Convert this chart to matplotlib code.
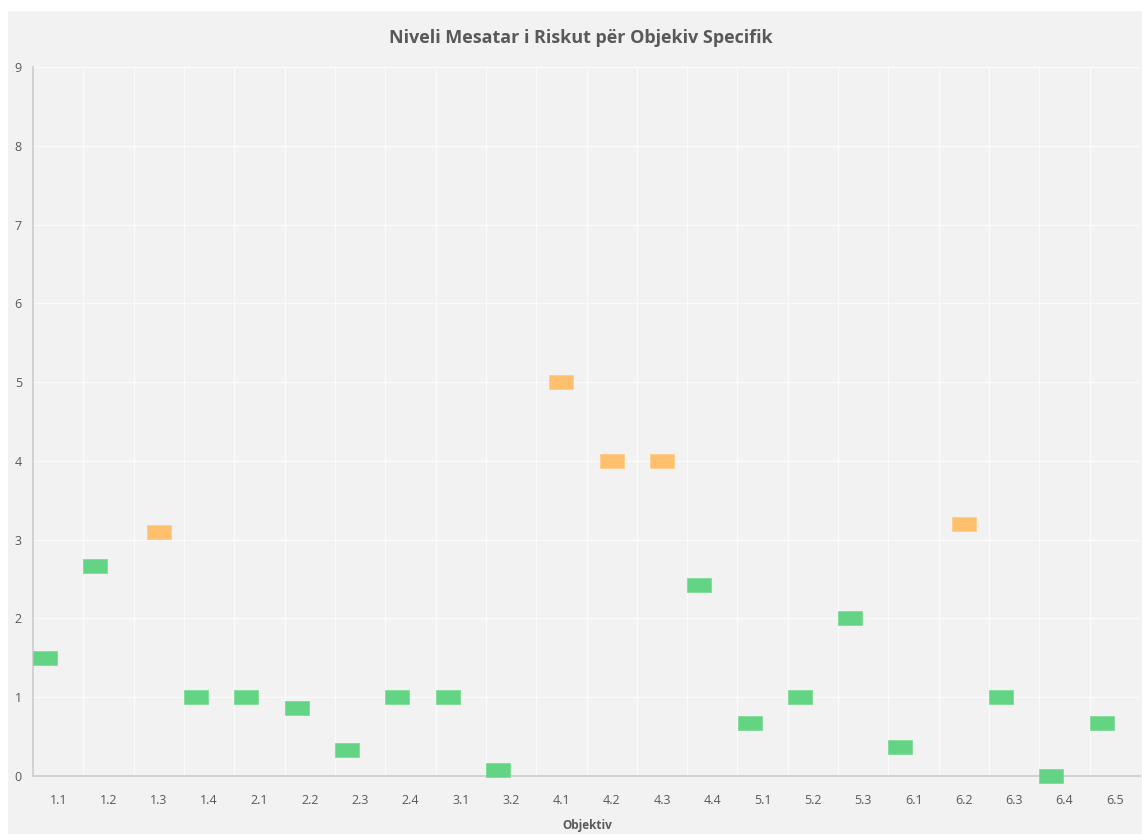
import matplotlib.pyplot as plt
from matplotlib.patches import Rectangle

# categories (specific objectives) and their average risk level
objectives = ["1.1", "1.2", "1.3", "1.4", "2.1", "2.2", "2.3", "2.4", "3.1", "3.2", "4.1",
              "4.2", "4.3", "4.4", "5.1", "5.2", "5.3", "6.1", "6.2", "6.3", "6.4", "6.5"]
avg_risk = [1.5, 2.67, 3.1, 1.0, 1.0, 0.86, 0.33, 1.0, 1.0, 0.08, 5.0,
            4.0, 4.0, 2.43, 0.67, 1.0, 2.0, 0.37, 3.2, 1.0, 0.0, 0.67]
medium_threshold = 3

W, H = 1142, 834
fig = plt.figure(figsize=(W / 100, H / 100), dpi=100)
fig.patch.set_facecolor("white")
# chart area background
fig.patches.append(Rectangle((8 / W, 0), (W - 8) / W, (H - 11) / H,
                             transform=fig.transFigure, facecolor="#f2f2f2",
                             edgecolor="none", zorder=-10))

left, right, top, bottom = 33, 1140, 67, 776
ax = fig.add_axes([left / W, (H - bottom) / H, (right - left) / W, (bottom - top) / H])
ax.set_facecolor("#f2f2f2")

green_x, green_y, orange_x, orange_y = [], [], [], []
for i, v in enumerate(avg_risk):
    if v >= medium_threshold:
        orange_x.append(i)
        orange_y.append(v)
    else:
        green_x.append(i - 0.26)
        green_y.append(v)

box = [(-1, -0.54), (1, -0.54), (1, 0.54), (-1, 0.54), (-1, -0.54)]
ax.plot(green_x, green_y, linestyle="none", marker=box, markersize=17.5,
        markerfacecolor="#63d384", markeredgecolor="#7ddc98", markeredgewidth=0.6,
        zorder=5, clip_on=False)
ax.plot(orange_x, orange_y, linestyle="none", marker=box, markersize=17.5,
        markerfacecolor="#ffc06e", markeredgecolor="#ffcd8a", markeredgewidth=0.6,
        zorder=5, clip_on=False)

ax.set_xlim(-0.5, len(objectives) - 0.5)
ax.set_ylim(0, 9)
ax.set_yticks(range(0, 10))
ax.set_xticks(range(len(objectives)))
ax.set_xticklabels(objectives)
ax.set_xticks([i - 0.5 for i in range(1, len(objectives) + 1)], minor=True)

ax.grid(True, axis="y", color="#fbfbfb", linewidth=0.9)
ax.grid(True, axis="x", which="minor", color="#fbfbfb", linewidth=0.9)
ax.set_axisbelow(True)

for s in ["top", "right"]:
    ax.spines[s].set_visible(False)
for s in ["left", "bottom"]:
    ax.spines[s].set_color("#cfcfcf")
    ax.spines[s].set_linewidth(1.3)

ax.tick_params(axis="both", which="both", length=0, labelsize=9, labelcolor="#595959")
ax.tick_params(axis="x", pad=13)
ax.tick_params(axis="y", pad=8)
for lab in ax.get_xticklabels() + ax.get_yticklabels():
    lab.set_fontfamily("Open Sans")

fig.text(581 / W, 1 - 38 / H, "Niveli Mesatar i Riskut për Objekiv Specifik",
         ha="center", va="center", fontsize=13, fontweight="bold",
         color="#595959", family="Open Sans")
fig.text(587 / W, 1 - 826 / H, "Objektiv", ha="center", va="center",
         fontsize=8.5, fontweight="bold", color="#595959", family="Open Sans")

fig.savefig("out.png", dpi=100, facecolor=fig.get_facecolor())
